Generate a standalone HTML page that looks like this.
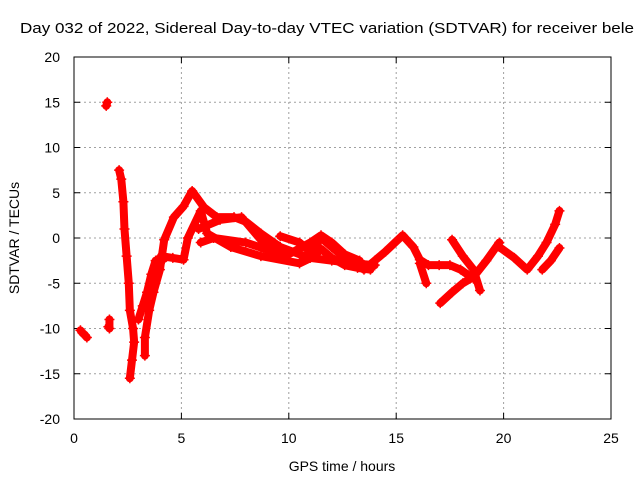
<!DOCTYPE html>
<html><head><meta charset="utf-8"><style>
body{margin:0;background:#fff}
svg{display:block;font-family:"Liberation Sans",sans-serif}
</style></head><body>
<svg id="chart" width="640" height="480" viewBox="0 0 640 480">
<rect width="640" height="480" fill="#fff"/>
<text x="20" y="33" font-size="15" textLength="614" lengthAdjust="spacingAndGlyphs">Day 032 of 2022, Sidereal Day-to-day VTEC variation (SDTVAR) for receiver bele</text>
<g id="grid"></g>
<g id="axes"></g>
<g id="marks"></g>
<text x="342" y="471" font-size="14" text-anchor="middle">GPS time / hours</text>
<text transform="translate(19,238) rotate(-90)" font-size="14" text-anchor="middle">SDTVAR / TECUs</text>
</svg>
<script>
const xTicks=[0,5,10,15,20,25];
const yTicks=[-20,-15,-10,-5,0,5,10,15,20];
const track1=[[0.3,-10.2],[0.4,-10.5],[0.5,-10.7],[0.6,-11]];
const track2=[[1.5,14.6],[1.55,15]];
const track3=[[1.6,-9.8],[1.65,-10],[1.65,-9]];
const track4=[[2.1,7.5],[2.2,6.5],[2.3,4],[2.35,1],[2.45,-2],[2.55,-5],[2.6,-8],[2.75,-10],[2.8,-11.5],[2.7,-13.5],[2.6,-15.5]];
const track5=[[3.3,-13],[3.3,-11],[3.5,-8],[3.7,-6],[4.0,-3.5],[4.2,-0.2],[4.65,2.3],[5.1,3.5],[5.5,5.2],[6.05,3.4],[6.65,2.3],[7.45,2.3],[8.0,1.8],[8.7,0.5],[9.6,-1],[10.5,-1.8],[11,-2.2],[12,-2.5],[13,-2.8],[14,-3]];
const track6=[[4.05,-2],[4.6,-2.2],[5.1,-2.4],[5.3,0],[5.9,3],[6.2,0.5],[7.3,-1],[8.7,-2],[10.5,-2.8],[11.2,-2],[11.5,-1.2],[12,-2.2],[12.6,-3],[13.2,-3.3],[13.8,-3.5]];
const track7=[[5.9,-0.5],[6.5,0],[8,-0.5],[9,-1.3],[10,-1.8],[11,-0.5],[11.5,0.3],[12,-0.5],[12.6,-1.8],[13.3,-2.5]];
const track8=[[5.8,1],[6.8,2],[7.8,2.3],[8.7,-0.2],[9.5,-1.5]];
const track9=[[9.6,0.2],[10.5,-0.5],[11,-1.5],[11.5,0],[12,-1],[12.5,-2],[13,-2.5]];
const track10=[[13.5,-3.5],[14,-2.5],[14.5,-1.5],[15.3,0.3],[15.8,-1],[16.1,-2.4],[16.5,-3],[17,-3],[17.5,-3],[18,-3.5],[18.6,-4.5]];
const track11=[[16.1,-2.8],[16.4,-5]];
const track12=[[17.05,-7.2],[17.6,-6],[18.1,-5],[18.6,-4.3],[19.2,-2.5],[19.8,-0.5]];
const track13=[[17.6,-0.2],[18.1,-2],[18.6,-3.5],[18.9,-5.8]];
const track14=[[19.8,-1],[20.5,-2.2],[21.1,-3.5],[21.6,-2],[22,-0.5],[22.4,1.5],[22.6,3]];
const track15=[[21.8,-3.5],[22.2,-2.5],[22.6,-1.1]];
const track16=[[3.0,-9],[3.2,-7.5],[3.4,-6],[3.6,-4],[3.8,-2.5],[4.2,-2.3]];
const tracks=[track1,track2,track3,track4,track5,track6,track7,track8,track9,track10,track11,track12,track13,track14,track15,track16];
const NS='http://www.w3.org/2000/svg';
const X0=74,X1=611,Y0=419,Y1=57;
function sx(h){return X0+(h-0)/(25-0)*(X1-X0);}
function sy(v){return Y0-(v+20)/40*(Y0-Y1);}
function mk(tag,attrs,parent){const e=document.createElementNS(NS,tag);for(const k in attrs)e.setAttribute(k,attrs[k]);parent.appendChild(e);return e;}
const grid=document.getElementById('grid'),axes=document.getElementById('axes'),marks=document.getElementById('marks');
xTicks.forEach(t=>{
  const x=sx(t);
  if(t>0&&t<25){const l=mk('line',{x1:x,y1:Y1,x2:x,y2:Y0,stroke:'#a0a0a0','stroke-dasharray':'2,3'},grid);
  
  }
  mk('line',{x1:x,y1:Y0,x2:x,y2:Y0-6,stroke:'#000'},axes);
  mk('line',{x1:x,y1:Y1,x2:x,y2:Y1+6,stroke:'#000'},axes);
  const tx=mk('text',{x:x,y:443,'font-size':14,'text-anchor':'middle'},axes);
  tx.textContent=t;
  
  
});
yTicks.forEach(t=>{
  const y=sy(t);
  if(t>-20&&t<20){const l=mk('line',{x1:X0,y1:y,x2:X1,y2:y,stroke:'#a0a0a0','stroke-dasharray':'2,3'},grid);
  
  }
  mk('line',{x1:X0,y1:y,x2:X0+6,y2:y,stroke:'#000'},axes);
  mk('line',{x1:X1,y1:y,x2:X1-6,y2:y,stroke:'#000'},axes);
  const tx=mk('text',{x:60,y:y+5,'font-size':14,'text-anchor':'end'},axes);
  tx.textContent=t;
  
  
});
const border=mk('rect',{x:X0,y:Y1,width:X1-X0,height:Y0-Y1,fill:'none',stroke:'#000'},axes);


tracks.forEach((tr,i)=>{
  const g=mk('g',{},marks);
  
  
  if(tr.length>1){
    const pl=mk('polyline',{points:tr.map(p=>sx(p[0])+','+sy(p[1])).join(' '),fill:'none',stroke:'#ff0000','stroke-width':8,'stroke-linejoin':'round','stroke-linecap':'round'},g);
    
    
  }
  tr.forEach(p=>{
    const x=sx(p[0]),y=sy(p[1]);
    const m=mk('path',{d:`M${x-5},${y}H${x+5}M${x},${y-5}V${y+5}`,stroke:'#ff0000','stroke-width':1.5},g);
    
    
  });
});
</script>
</body></html>
